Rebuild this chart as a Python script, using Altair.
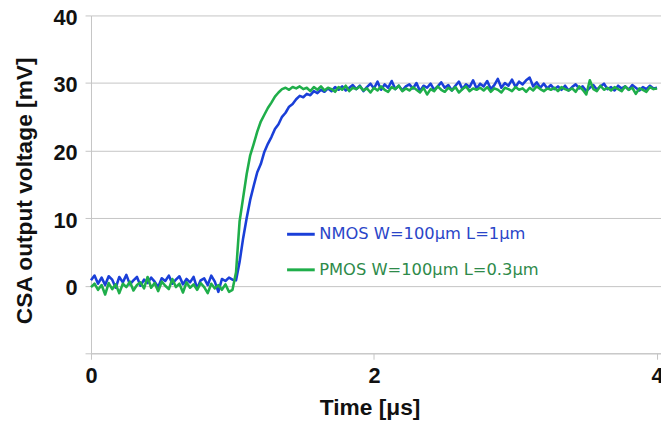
import altair as alt
import pandas as pd

# sampling grid (µs), 0.025 µs step
STEP = 0.025
N = 161

series_names = ["NMOS W=100μm L=1μm", "PMOS W=100μm L=0.3μm"]
series_colors = ["#1a3fd8", "#1fae4a"]
label_colors = ["#2a45c8", "#2e8a4a"]

nmos_mv = [
    0.8, 1.5, 0.3, 1.2, 0.1, 1.4, 0.9, -0.3, 1.3, 0.5,
    1.6, 0.2, 0.8, 1.3, 0.0, 0.9, 0.4, 1.2, 0.6, -0.2,
    1.1, 0.7, 1.5, 0.3, 0.9, 1.4, 0.2, 1.0, 0.5, 1.3,
    -0.4, 0.8, 1.1, 0.1, 1.5, 0.6, -0.9, 1.0, 0.7, 1.2,
    0.9,
    0.8, 3.5, 7.0, 10.0, 12.7, 14.8, 16.8, 18.0, 19.8, 21.0,
    22.0, 23.2, 23.9, 25.0, 25.6, 26.5, 26.9, 27.6, 28.1, 27.9,
    28.4, 28.2, 28.8, 28.5, 29.0, 28.7, 29.2, 28.8, 29.4,
    29.0, 29.5, 28.9, 29.3, 29.7, 29.1, 29.6, 28.8, 29.4, 29.9,
    29.2, 30.2, 29.0, 29.8, 29.3, 30.3, 29.1, 29.6, 28.9, 29.5,
    29.8, 29.2, 30.0, 28.8, 29.6, 29.3, 29.9, 29.0, 29.5, 30.1,
    29.3, 29.7, 28.9, 29.6, 30.2, 29.1, 29.8, 29.4, 30.4, 29.2,
    29.9, 29.5, 30.3, 29.1, 29.7, 30.6, 29.3, 30.0, 29.6, 30.5,
    29.4, 30.2, 29.8, 30.4, 30.8, 29.5, 30.1, 29.3, 29.9, 29.2,
    29.7, 29.1, 29.5, 29.0, 29.6, 28.9, 29.4, 29.8, 29.2, 29.5,
    28.8, 29.3, 29.7, 29.0, 29.5, 29.9, 29.1, 29.4, 28.9, 29.6,
    29.2, 29.5, 29.0, 29.7, 29.3, 28.9, 29.4, 29.1, 29.6, 29.2,
    29.3,
]

pmos_mv = [
    -0.2, 0.3, -0.6, 0.1, -1.3, 0.4, -0.5, 0.2, -1.1, 0.3,
    -0.2, 0.6, -0.7, 0.1, 0.5, -0.4, 1.3, -0.3, 0.4, -0.8,
    0.6, 0.0, -0.5, 1.0, -0.2, 0.3, -1.0, 0.5, -0.3, 0.2,
    -0.6, 0.4, -0.2, -1.1, 0.3, -0.4, 0.1, -0.6, 0.2, -0.9,
    -0.6,
    2.0, 9.5, 13.0, 16.5, 19.3, 21.0, 22.8, 24.3, 25.3, 26.3,
    27.1, 28.0, 28.6, 29.1,
    29.3, 29.0, 29.4, 29.2, 29.5,
    29.1, 29.3, 28.8, 29.4, 29.0, 29.5, 28.9, 29.3, 29.1, 28.7,
    29.4, 29.0, 29.6, 28.8, 29.3, 29.1, 29.5, 28.9, 29.2, 28.6,
    29.3, 28.9, 29.5, 29.0, 28.7, 29.4, 29.1, 29.6, 28.8, 29.2,
    28.9, 29.4, 29.0, 28.6, 29.3, 28.3, 29.1, 28.8, 29.5, 29.0,
    28.7, 29.3, 28.9, 29.4, 28.6, 29.1, 29.5, 28.8, 29.2, 29.0,
    29.3, 28.9, 29.4, 28.7, 29.2, 29.0, 28.6, 29.3, 29.1, 28.8,
    29.4, 29.0, 29.2, 28.7, 29.3, 28.9, 29.5, 29.1, 28.8, 29.2,
    29.0, 29.3, 28.8, 29.4, 29.1, 28.9, 29.2, 28.7, 29.5, 29.0,
    28.3, 30.4, 29.1, 28.8, 29.6, 29.0, 29.3, 28.9, 29.4, 29.1,
    28.8, 29.5, 29.0, 29.3, 28.4, 29.2, 29.0, 28.7, 29.4, 29.1,
    29.2,
]

x_ticks = [0, 2, 4]
y_ticks = [-10, 0, 10, 20, 30, 40]

time_us = [round(i * STEP, 4) for i in range(N)]

rows = []
for name, vals in zip(series_names, [nmos_mv, pmos_mv]):
    for t, v in zip(time_us, vals):
        rows.append({"t": t, "v": v, "series": name})
df = pd.DataFrame(rows)

FONT = "Liberation Sans"
GRID = "#c4c4c4"
TXT = "#111111"

label_fill = (
    f"datum.index === 0 ? '{label_colors[0]}' : '{label_colors[1]}'"
)

axis_common = dict(
    labelFont=FONT,
    titleFont=FONT,
    labelFontSize=22,
    titleFontSize=23,
    labelFontWeight="bold",
    titleFontWeight="bold",
    labelColor=TXT,
    titleColor=TXT,
    domainColor=GRID,
    tickColor=GRID,
    tickSize=6,
    titleBaseline="alphabetic",
)

chart = (
    alt.Chart(df)
    .mark_line(strokeWidth=2.6, strokeJoin="round")
    .encode(
        x=alt.X(
            "t:Q",
            scale=alt.Scale(domain=[0, 4.028], nice=False, zero=False),
            axis=alt.Axis(
                title="Time [μs]",
                values=x_ticks,
                grid=False,
                labelPadding=7,
                labelFlush=False,
                titleX=282,
                titleY=62,
                titleAlign="center",
                **axis_common,
            ),
        ),
        y=alt.Y(
            "v:Q",
            scale=alt.Scale(domain=[-10, 40], nice=False),
            axis=alt.Axis(
                title="CSA output voltage [mV]",
                values=y_ticks,
                labelExpr="datum.value == -10 ? '' : datum.label",
                grid=True,
                gridColor=GRID,
                labelPadding=8,
                labelOffset=2,
                titleX=-60,
                titleY=177,
                titleAlign="center",
                titleAngle=270,
                **axis_common,
            ),
        ),
        color=alt.Color(
            "series:N",
            scale=alt.Scale(domain=series_names, range=series_colors),
            legend=alt.Legend(
                title=None,
                orient="none",
                legendX=197,
                legendY=206,
                symbolType="stroke",
                symbolStrokeWidth=3,
                symbolSize=784,
                labelFont="DejaVu Sans",
                labelFontSize=16.5,
                labelOffset=3,
                labelLimit=400,
                rowPadding=12,
                labelColor=alt.ExprRef(expr=label_fill),
            ),
        ),
        order=alt.Order("t:Q"),
    )
    .properties(
        width=577,
        height=342,
        autosize=alt.AutoSizeParams(type="none"),
        padding={"left": 84, "top": 5, "right": 0, "bottom": 67},
        background="white",
    )
    .configure_view(stroke=None)
)

chart.save("out.html", embed_options={"renderer": "svg", "actions": False})
